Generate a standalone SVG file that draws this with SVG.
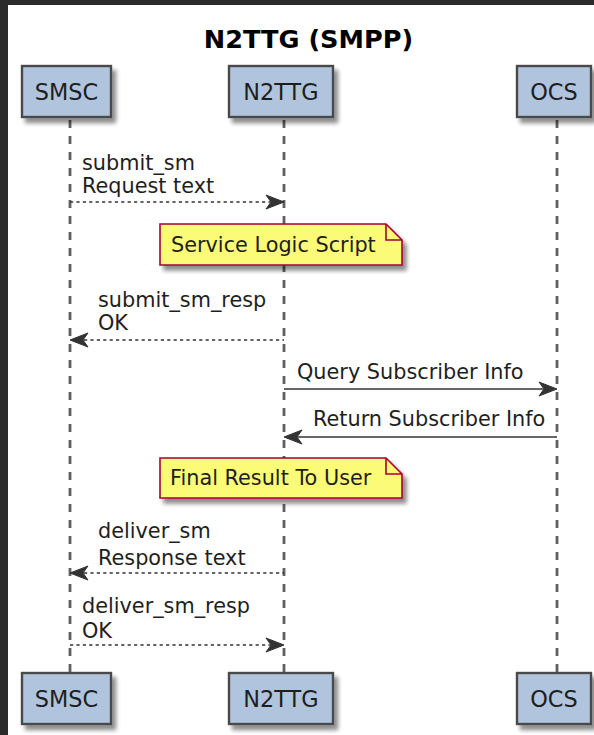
<svg xmlns="http://www.w3.org/2000/svg" width="594" height="735" viewBox="0 0 594 735">
  <style>
    .txt { font-family: "DejaVu Sans", "Liberation Sans", sans-serif; fill: #1e1e1e; }
    .title { font-size: 25.6px; font-weight: bold; fill: #000; }
    .part rect { fill: #B0C4DE; stroke: #4a4a4a; stroke-width: 2.4; }
    .part text { font-size: 22.4px; text-anchor: middle; }
    .msg { font-size: 20.8px; }
    .life { stroke: #606060; stroke-width: 2.8; stroke-dasharray: 8 8; fill: none; }
    .solid { stroke: #333; stroke-width: 1.6; fill: none; }
    .dash { stroke: #333; stroke-width: 1.6; stroke-dasharray: 3.2 3.2; fill: none; }
    .head { fill: #333; stroke: #333; stroke-width: 1; }
    .note path.body { fill: #FBFB77; stroke: #A80036; stroke-width: 1.6; }
    .note path.fold { fill: none; stroke: #A80036; stroke-width: 1.6; }
  </style>
  <defs>
    <filter id="shadow" x="-20%" y="-20%" width="150%" height="160%">
      <feGaussianBlur in="SourceAlpha" stdDeviation="2.2"/>
      <feOffset dx="4" dy="5" result="blur"/>
      <feComponentTransfer><feFuncA type="linear" slope="0.45"/></feComponentTransfer>
      <feMerge><feMergeNode/><feMergeNode in="SourceGraphic"/></feMerge>
    </filter>
  </defs>

  <!-- page background with dark frame at top and left -->
  <rect x="0" y="0" width="594" height="735" fill="#2b2b2b"/>
  <rect x="8" y="5" width="586" height="730" fill="#ffffff"/>

  <text class="txt title" x="308.5" y="48" text-anchor="middle">N2TTG (SMPP)</text>

  <!-- lifelines -->
  <g id="lifelines">
    <line class="life" x1="70" y1="120" x2="70" y2="673"/>
    <line class="life" x1="284" y1="120" x2="284" y2="673"/>
    <line class="life" x1="557" y1="120" x2="557" y2="673"/>
  </g>

  <!-- participants, top and bottom -->
  <g id="smsc" class="part txt">
    <rect x="22" y="66" width="89" height="51" filter="url(#shadow)"/>
    <text x="66.5" y="100">SMSC</text>
    <rect x="22" y="673" width="89" height="51" filter="url(#shadow)"/>
    <text x="66.5" y="707">SMSC</text>
  </g>
  <g id="n2ttg" class="part txt">
    <rect x="229" y="66" width="104" height="51" filter="url(#shadow)"/>
    <text x="281" y="100">N2TTG</text>
    <rect x="229" y="673" width="104" height="51" filter="url(#shadow)"/>
    <text x="281" y="707">N2TTG</text>
  </g>
  <g id="ocs" class="part txt">
    <rect x="517" y="66" width="74" height="51" filter="url(#shadow)"/>
    <text x="554" y="100">OCS</text>
    <rect x="517" y="673" width="74" height="51" filter="url(#shadow)"/>
    <text x="554" y="707">OCS</text>
  </g>

  <!-- notes -->
  <g id="note-service-logic" class="note">
    <g filter="url(#shadow)">
      <path class="body" d="M160,224 H386 L402,240 V265 H160 Z"/>
    </g>
    <path class="fold" d="M386,224 V240 H402"/>
    <text class="txt msg" x="171" y="252">Service Logic Script</text>
  </g>
  <g id="note-final-result" class="note">
    <g filter="url(#shadow)">
      <path class="body" d="M160,458 H386 L402,474 V498 H160 Z"/>
    </g>
    <path class="fold" d="M386,458 V474 H402"/>
    <text class="txt msg" x="170" y="485">Final Result To User</text>
  </g>

  <!-- messages -->
  <g id="connectors">
    <g id="m1">
      <line class="dash" x1="70" y1="202" x2="270" y2="202"/>
      <polygon class="head" points="284,202 266,195 271,202 266,209"/>
      <text class="txt msg" x="82" y="170">submit_sm</text>
      <text class="txt msg" x="82" y="193">Request text</text>
    </g>
    <g id="m2">
      <line class="dash" x1="84" y1="340" x2="284" y2="340"/>
      <polygon class="head" points="70,340 88,333 83,340 88,347"/>
      <text class="txt msg" x="98" y="307">submit_sm_resp</text>
      <text class="txt msg" x="98" y="330">OK</text>
    </g>
    <g id="m3">
      <line class="solid" x1="284" y1="389" x2="543" y2="389"/>
      <polygon class="head" points="557,389 539,382 544,389 539,396"/>
      <text class="txt msg" x="297" y="379">Query Subscriber Info</text>
    </g>
    <g id="m4">
      <line class="solid" x1="298" y1="437" x2="557" y2="437"/>
      <polygon class="head" points="284,437 302,430 297,437 302,444"/>
      <text class="txt msg" x="313" y="426">Return Subscriber Info</text>
    </g>
    <g id="m5">
      <line class="dash" x1="84" y1="573" x2="284" y2="573"/>
      <polygon class="head" points="70,573 88,566 83,573 88,580"/>
      <text class="txt msg" x="98" y="538">deliver_sm</text>
      <text class="txt msg" x="98" y="565">Response text</text>
    </g>
    <g id="m6">
      <line class="dash" x1="70" y1="645" x2="270" y2="645"/>
      <polygon class="head" points="284,645 266,638 271,645 266,652"/>
      <text class="txt msg" x="82" y="613">deliver_sm_resp</text>
      <text class="txt msg" x="82" y="638">OK</text>
    </g>
  </g>
</svg>
